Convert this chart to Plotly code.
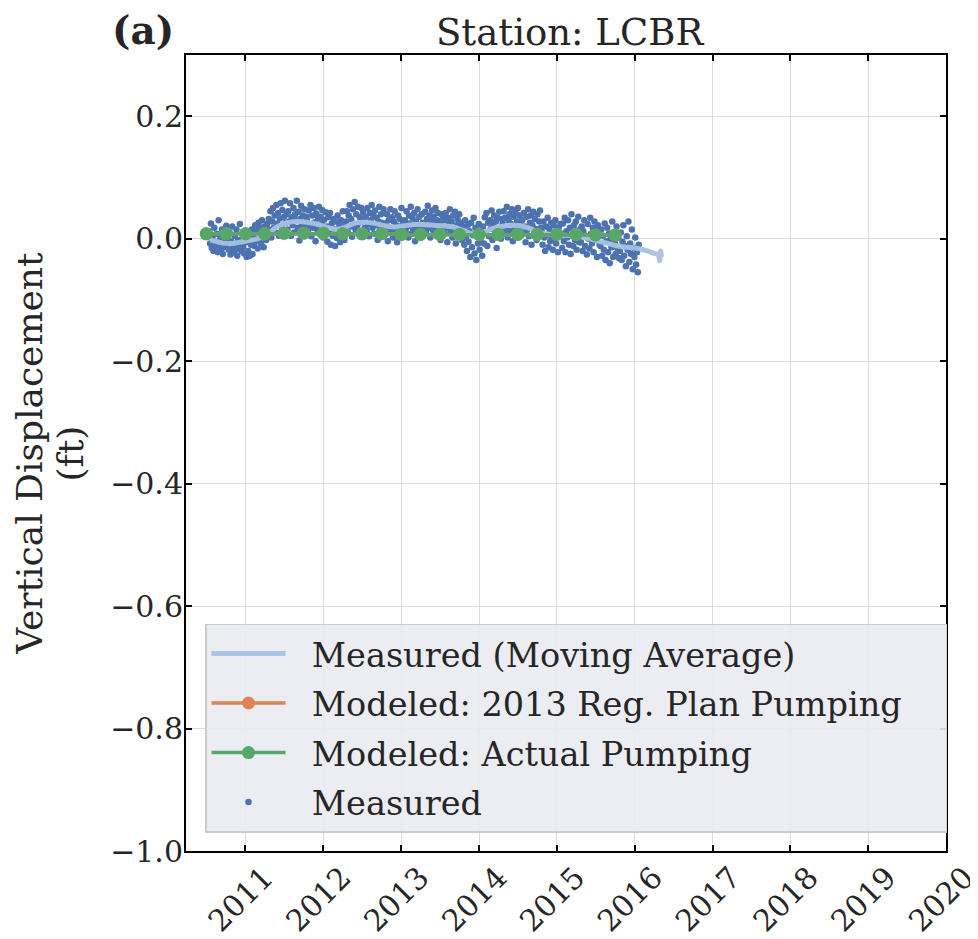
import pandas as pd
import plotly.graph_objects as go

# measured displacement (ft), Jul 2010 -> Jan 2016
measured_vals = [
    0.012, -0.008, 0.025, -0.015, 0.004, -0.02, 0.018, -0.005, -0.012, 0.008, -0.022, 0.03, -0.01, 0.002, -0.018, 0.015, -0.025, 0.006, -0.003, -0.014, 0.021, -0.009, 0.001,
    -0.018, 0.01, -0.026, -0.004, 0.02, -0.015, -0.022, 0.005, -0.01, 0.015, -0.028, -0.002, -0.017, 0.024, -0.008, -0.02, 0.007, -0.013, -0.024, 0.012, -0.006, -0.03, 0.003,
    -0.02, 0.008, -0.028, -0.01, 0.015, -0.025, 0.004, -0.012, 0.022, -0.004, 0.012, -0.016, 0.026, 0.0, 0.018, -0.008, 0.03, 0.006, -0.014, 0.02, 0.01, -0.002, 0.024,
    0.008, 0.032, 0.015, 0.045, 0.002, 0.028, 0.05, 0.018, 0.038, 0.01, 0.055, 0.025, 0.042, 0.005, 0.033, 0.058, 0.02, 0.047, 0.012, 0.036, 0.062, 0.026, 0.04,
    0.015, 0.045, 0.028, 0.058, 0.005, 0.035, 0.022, 0.05, 0.01, 0.04, 0.03, 0.062, 0.018, 0.044, -0.003, 0.032, 0.054, 0.024, 0.038, 0.008, 0.048, 0.02, 0.036,
    0.03, 0.012, 0.046, 0.022, 0.055, 0.004, 0.038, 0.018, 0.05, 0.027, -0.004, 0.041, 0.015, 0.033, 0.052, 0.009, 0.036, 0.024, 0.047, 0.002, 0.031, 0.019, 0.043,
    0.02, -0.005, 0.035, 0.01, 0.042, -0.01, 0.025, 0.005, 0.032, 0.015, -0.012, 0.028, 0.001, 0.038, 0.012, 0.022, -0.006, 0.03, 0.008, 0.045, 0.018, -0.002, 0.026,
    0.028, 0.045, 0.01, 0.038, 0.055, 0.02, 0.032, 0.003, 0.048, 0.025, 0.06, 0.015, 0.04, 0.022, 0.052, 0.008, 0.035, 0.027, 0.05, 0.012, 0.043, 0.03, 0.018,
    0.036, 0.014, 0.05, 0.024, 0.004, 0.042, 0.03, 0.055, 0.018, 0.038, 0.008, 0.046, 0.022, 0.034, -0.002, 0.028, 0.052, 0.016, 0.04, 0.026, 0.01, 0.048, 0.02,
    0.025, 0.008, 0.04, -0.004, 0.03, 0.018, 0.048, 0.012, 0.035, 0.002, 0.028, 0.045, 0.015, 0.022, -0.006, 0.038, 0.01, 0.032, 0.02, 0.05, 0.005, 0.026, 0.016,
    0.03, 0.012, 0.045, 0.02, 0.002, 0.038, 0.025, 0.052, 0.008, 0.034, 0.016, 0.042, -0.004, 0.028, 0.018, 0.048, 0.01, 0.036, 0.022, 0.004, 0.04, 0.026, 0.014,
    0.024, 0.044, 0.01, 0.032, 0.054, 0.018, 0.038, 0.002, 0.028, 0.046, 0.014, 0.036, 0.022, 0.05, 0.006, 0.03, 0.042, 0.016, 0.026, -0.002, 0.04, 0.02, 0.034,
    0.03, 0.008, 0.042, 0.018, -0.006, 0.034, 0.024, 0.048, 0.012, 0.028, 0.002, 0.038, 0.016, 0.044, -0.008, 0.022, 0.032, 0.006, 0.04, 0.014, 0.026, -0.002, 0.02,
    0.015, -0.01, 0.03, 0.002, -0.02, 0.022, -0.005, 0.012, -0.03, 0.026, -0.014, 0.006, 0.034, -0.024, 0.018, -0.035, 0.008, -0.008, 0.024, -0.018, 0.0, 0.014, -0.028,
    0.02, -0.008, 0.035, 0.01, 0.042, -0.012, 0.026, 0.004, 0.03, 0.016, 0.046, -0.002, 0.022, 0.038, 0.008, 0.028, -0.015, 0.034, 0.012, 0.044, 0.018, 0.0, 0.032,
    0.025, 0.045, 0.008, 0.034, 0.016, 0.052, 0.002, 0.03, 0.04, 0.012, 0.024, 0.048, -0.004, 0.036, 0.02, 0.044, 0.01, 0.028, 0.05, 0.014, 0.038, 0.022, 0.006,
    0.03, 0.01, 0.042, 0.02, -0.006, 0.036, 0.014, 0.048, 0.004, 0.026, 0.038, -0.01, 0.022, 0.044, 0.008, 0.032, 0.016, -0.002, 0.04, 0.012, 0.028, 0.046, 0.018,
    0.012, -0.01, 0.028, 0.002, -0.02, 0.02, 0.006, 0.034, -0.014, 0.016, -0.004, 0.026, 0.0, -0.018, 0.022, 0.01, 0.03, -0.008, 0.014, -0.022, 0.018, 0.004, 0.024,
    0.008, -0.015, 0.025, -0.004, 0.034, -0.022, 0.012, 0.002, 0.03, -0.01, 0.018, -0.025, 0.04, 0.005, -0.012, 0.022, -0.002, 0.028, -0.018, 0.01, 0.036, -0.006, 0.015,
    -0.006, 0.02, -0.02, 0.012, 0.03, -0.012, 0.004, -0.026, 0.024, 0.0, -0.016, 0.034, 0.008, -0.008, 0.018, -0.022, 0.028, -0.002, 0.014, -0.03, 0.022, 0.006, -0.01,
    -0.012, 0.015, -0.028, 0.005, -0.018, 0.025, -0.035, -0.004, 0.018, -0.022, 0.008, -0.04, 0.0, -0.014, 0.028, -0.03, 0.01, -0.008, -0.025, 0.02, -0.016, 0.002, -0.032,
    -0.02, 0.01, -0.035, -0.005, 0.022, -0.028, -0.012, -0.045, 0.004, -0.018, 0.028, -0.038, -0.008, -0.025, 0.015, -0.05, -0.015, -0.03, 0.002, -0.042, -0.022, -0.055, -0.01,
]
measured_dates = pd.date_range("2010-07-15", "2016-01-20", periods=len(measured_vals))

# moving average of the measured record
ma_dates = ["2010-07-20", "2010-09-01", "2010-10-15", "2010-12-01", "2011-01-15", "2011-03-01",
            "2011-04-15", "2011-06-01", "2011-07-15", "2011-09-01", "2011-10-15", "2011-12-01",
            "2012-01-15", "2012-03-01", "2012-04-15", "2012-06-01", "2012-07-15", "2012-09-01",
            "2012-10-15", "2012-12-01", "2013-01-15", "2013-03-01", "2013-04-15", "2013-06-01",
            "2013-07-15", "2013-09-01", "2013-10-15", "2013-12-01", "2014-01-15", "2014-03-01",
            "2014-04-15", "2014-06-01", "2014-07-15", "2014-09-01", "2014-10-15", "2014-12-01",
            "2015-01-15", "2015-03-01", "2015-04-15", "2015-06-01", "2015-07-15", "2015-09-01",
            "2015-10-15", "2015-12-01", "2016-01-15", "2016-03-01", "2016-04-01", "2016-04-20",
            "2016-04-28", "2016-05-02", "2016-05-06"]
ma_vals = [-0.002, -0.006, -0.008, -0.006, -0.003, 0.0,
           0.008, 0.02, 0.026, 0.028, 0.027, 0.024,
           0.019, 0.015, 0.019, 0.026, 0.027, 0.025,
           0.021, 0.019, 0.021, 0.023, 0.023, 0.022,
           0.021, 0.019, 0.014, 0.008, 0.01, 0.016,
           0.02, 0.022, 0.021, 0.016, 0.01, 0.007,
           0.006, 0.005, 0.004, 0.0, -0.004, -0.008,
           -0.012, -0.014, -0.016, -0.02, -0.024, -0.026,
           -0.036, -0.02, -0.03]

# modeled results (quarterly)
model_dates = pd.date_range("2010-07-01", "2015-10-01", freq="QS").strftime("%Y-%m-%d").tolist()
plan_vals = [0.008, 0.008, 0.008, 0.008, 0.009, 0.009, 0.009, 0.008, 0.008, 0.008, 0.007,
             0.007, 0.007, 0.007, 0.007, 0.007, 0.007, 0.007, 0.007, 0.007, 0.006, 0.006]
actual_vals = [0.008, 0.008, 0.008, 0.008, 0.009, 0.009, 0.009, 0.008, 0.008, 0.008, 0.007,
               0.007, 0.007, 0.007, 0.007, 0.007, 0.007, 0.007, 0.007, 0.007, 0.006, 0.006]

FONT = "DejaVu Serif"
TXT = "#262626"
PAD = "\u00a0\u00a0"  # gap between legend symbol and label

fig = go.Figure()
fig.add_trace(go.Scatter(x=measured_dates, y=measured_vals, mode="markers", name=PAD + "Measured",
                         marker=dict(color="#4c72b0", size=6.5), legendrank=4, legendgroup="d"))
fig.add_trace(go.Scatter(x=ma_dates, y=ma_vals, mode="lines",
                         name=PAD + "Measured (Moving Average)",
                         line=dict(color="rgba(167,194,226,0.95)", width=5, shape="spline"),
                         legendrank=1, legendgroup="a"))
fig.add_trace(go.Scatter(x=model_dates, y=plan_vals, mode="lines+markers",
                         name=PAD + "Modeled: 2013 Reg. Plan Pumping" + "\u00a0" * 3 + "\u2009",
                         line=dict(color="#dd8452", width=3.5), marker=dict(size=13),
                         legendrank=2, legendgroup="b"))
fig.add_trace(go.Scatter(x=model_dates, y=actual_vals, mode="lines+markers",
                         name=PAD + "Modeled: Actual Pumping",
                         line=dict(color="#55a868", width=3.5), marker=dict(size=13),
                         legendrank=3, legendgroup="c"))

axis_common = dict(showline=True, linecolor="black", linewidth=2, mirror="ticks",
                   ticks="inside", ticklen=6, tickwidth=1.5, tickcolor="black",
                   showgrid=True, gridcolor="#dcdcdc", gridwidth=1.2, zeroline=False,
                   automargin=False, ticklabeloverflow="allow",
                   tickfont=dict(family=FONT, size=30, color=TXT))

fig.update_xaxes(type="date", range=["2010-03-28", "2020-01-01"], tick0="2011-01-01",
                 dtick="M12", tickformat="%Y", tickangle=-45,
                 ticklabelshift=19, ticklabelstandoff=-5, **axis_common)
fig.update_yaxes(range=[-1.0, 0.3], tick0=0, dtick=0.2, tickformat=".1f",
                 ticklabelstandoff=-5, **axis_common)

# the page body adds an 8px offset, so the figure is 8px smaller on both sides
fig.update_layout(
    width=970, height=931,
    margin=dict(l=178, r=32, t=47, b=88, autoexpand=False),
    paper_bgcolor="white", plot_bgcolor="white",
    title=dict(text="Station: LCBR", x=0.579, xanchor="center", y=0.974, yanchor="middle",
               font=dict(family=FONT, size=37, color=TXT)),
    legend=dict(x=0.025, y=0.023, xanchor="left", yanchor="bottom",
                bgcolor="rgba(234,234,242,0.9)", bordercolor="#cccccc", borderwidth=1.5,
                font=dict(family=FONT, size=33.5, color=TXT), tracegroupgap=3,
                itemsizing="trace", itemwidth=74),
    showlegend=True,
)
fig.add_annotation(text="<b>(a)</b>", xref="paper", yref="paper", x=-0.057, y=1.032,
                   xanchor="center", yanchor="middle", showarrow=False,
                   font=dict(family=FONT, size=39, color=TXT))
fig.add_annotation(text="Vertical Displacement", xref="paper", yref="paper", x=-0.207, y=0.5,
                   xanchor="center", yanchor="middle", textangle=-90, showarrow=False,
                   font=dict(family=FONT, size=36, color=TXT))
fig.add_annotation(text="(ft)", xref="paper", yref="paper", x=-0.152, y=0.5,
                   xanchor="center", yanchor="middle", textangle=-90, showarrow=False,
                   font=dict(family=FONT, size=36, color=TXT))

fig.write_html("out.html")
